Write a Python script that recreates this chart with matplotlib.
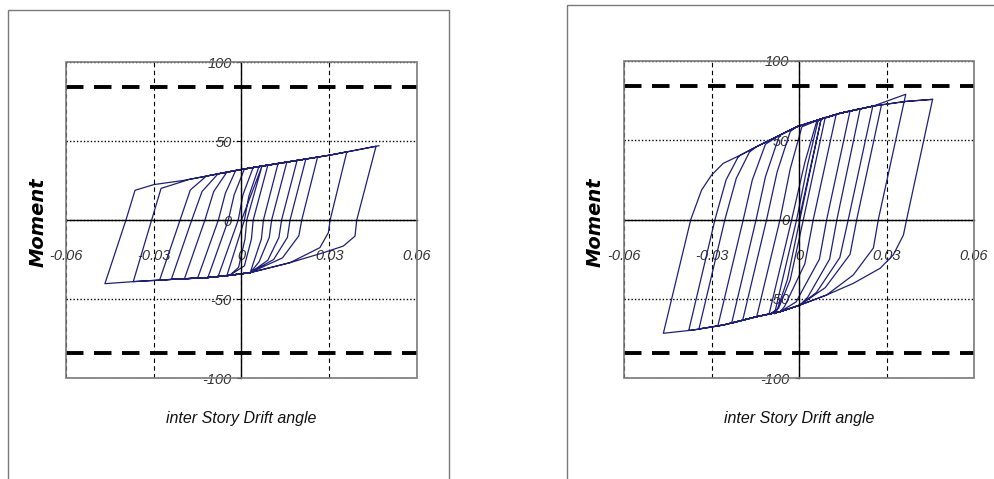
import numpy as np
import matplotlib
matplotlib.use("Agg")
import matplotlib.pyplot as plt
from matplotlib.patches import Rectangle

# ---------------- data ----------------
x_ticks = [-0.06, -0.03, 0, 0.03, 0.06]
x_tick_labels = ["-0.06", "-0.03", "0", "0.03", "0.06"]
y_ticks = [-100, -50, 0, 50, 100]
y_tick_labels = ["-100", "-50", "0", "50", "100"]
limit_lines = [84, -84]

# left specimen
L_up_x = [-0.030, -0.020, -0.010, 0.0, 0.010, 0.020, 0.030, 0.040, 0.047]
L_up_y = [22.4, 25.0, 28.5, 32.0, 35.0, 38.0, 41.0, 44.5, 47.0]
L_lo_x = [-0.047, -0.037, -0.023, -0.012, -0.004, 0.003, 0.0166, 0.028]
L_lo_y = [-40.3, -39.0, -37.5, -36.5, -35.0, -33.3, -27.0, -20.7]
L_px = [0.007, 0.009, 0.0125, 0.0155, 0.019, 0.022, 0.026, 0.036, 0.046]
L_py = [34.1, 34.7, 35.8, 36.7, 37.7, 38.6, 39.8, 43.1, 46.7]
L_uz = [0.0018, 0.004, 0.0075, 0.0103, 0.0137, 0.0166, 0.0206, 0.0303, 0.0394]
L_ub1x = [0.0012, 0.0034, 0.0068, 0.0095, 0.0128, 0.0157, 0.0196, 0.0297, 0.0388]
L_ub1y = [-12, -12, -12, -11, -11, -11, -10, -8, -10.2]
L_ub2x = [-0.001, 0.001, 0.004, 0.006, 0.009, 0.011, 0.014, 0.0268, 0.0348]
L_ub2y = [-30, -29, -27.5, -26.5, -25.5, -25, -24, -17.5, -16.5]
L_nx = [-0.005, -0.008, -0.0115, -0.015, -0.0195, -0.024, -0.028, -0.037, -0.0467]
L_ny = [-35.2, -35.8, -36.5, -36.8, -37.2, -37.6, -38.1, -39.0, -40.3]
L_rz = [0.001, -0.0011, -0.0045, -0.0079, -0.0125, -0.017, -0.021, -0.0307, -0.0395]
L_rb1x = [0.0025, 0.0005, -0.0025, -0.0055, -0.0095, -0.0135, -0.0175, -0.0275, -0.0364]
L_rb1y = [15, 16, 16, 17, 18, 18, 19, 20, 18.8]
L_rb2x = [0.006, 0.004, 0.001, -0.002, -0.005, -0.008, -0.012, -0.018, -0.030]
L_rb2y = [34.0, 33.3, 32.3, 31.3, 30.3, 29.3, 27.8, 25.6, 22.4]

# right specimen
R_up_x = [-0.030, -0.026, -0.020, -0.0145, -0.0065, -0.0008, 0.0072, 0.014, 0.0255, 0.0366, 0.0458]
R_up_y = [28.0, 35.4, 40.7, 46.0, 53.3, 58.5, 63.2, 67.0, 71.6, 74.5, 75.8]
R_lo_x = [-0.0465, -0.0362, -0.026, -0.0145, -0.0065, 0.0003, 0.0095, 0.0186, 0.0278]
R_lo_y = [-71.8, -69.7, -66.6, -61.3, -58.2, -54.0, -47.6, -40.3, -30.8]
R_px = [0.0076, 0.009, 0.0127, 0.0175, 0.021, 0.0253, 0.0283, 0.0366, 0.0458]
R_py = [63.5, 64.5, 66.0, 68.5, 70.0, 71.5, 72.5, 79.0, 75.8]
R_uz = [0.0003, 0.0015, 0.0049, 0.0095, 0.0130, 0.0169, 0.0198, 0.0272, 0.0369]
R_ub1x = [-0.004, -0.003, 0.002, 0.007, 0.0105, 0.014, 0.0175, 0.0255, 0.0358]
R_ub1y = [-38, -38, -28, -25, -25, -24, -22, -18, -9.8]
R_ub2x = [-0.0075, -0.007, -0.005, -0.001, 0.003, 0.006, 0.009, 0.0186, 0.0323]
R_ub2y = [-57, -56, -55, -52, -49, -46, -43, -35, -22.4]
R_nx = [-0.0084, -0.0103, -0.0145, -0.0193, -0.0231, -0.0278, -0.0343, -0.0378, -0.0465]
R_ny = [-59.5, -60.0, -61.3, -63.5, -65.5, -67.0, -69.0, -70.0, -71.8]
R_rz = [-0.0008, -0.0025, -0.0065, -0.0111, -0.0147, -0.0191, -0.0254, -0.0288, -0.0371]
R_rb1x = [0.003, 0.002, -0.003, -0.0075, -0.0115, -0.016, -0.0215, -0.025, -0.0334]
R_rb1y = [35, 36, 32, 30, 27, 25, 26, 25, 18.6]
R_rb2x = [0.0065, 0.006, 0.001, -0.003, -0.007, -0.0115, -0.017, -0.021, -0.030]
R_rb2y = [62.0, 61.5, 58.5, 55.5, 51.5, 47.5, 42.5, 39.0, 28.0]

navy = "#1f1f7a"
frame_grey = "#7a7a7a"


def reload_part(xs, ys, j, rz, rb1x, rb1y, rb2x, rb2y, upx, upy, x_end):
    xs += [rz[j], rb1x[j], rb2x[j]]
    ys += [0.0, rb1y[j], rb2y[j]]
    for a, b in zip(upx, upy):
        if rb2x[j] < a < x_end:
            xs.append(a)
            ys.append(b)


def hysteresis(px, py, uz, ub1x, ub1y, ub2x, ub2y, nx, ny,
               rz, rb1x, rb1y, rb2x, rb2y, upx, upy, lox, loy):
    xs, ys = [0.0], [0.0]
    for k in range(len(px)):
        if k > 0:
            reload_part(xs, ys, k - 1, rz, rb1x, rb1y, rb2x, rb2y, upx, upy, px[k])
        xs.append(px[k]); ys.append(py[k])
        xs += [uz[k], ub1x[k], ub2x[k]]
        ys += [0.0, ub1y[k], ub2y[k]]
        for a, b in reversed(list(zip(lox, loy))):
            if nx[k] < a < ub2x[k]:
                xs.append(a); ys.append(b)
        xs.append(nx[k]); ys.append(ny[k])
    reload_part(xs, ys, len(px) - 1, rz, rb1x, rb1y, rb2x, rb2y, upx, upy, 1.0)
    return xs, ys


fig = plt.figure(figsize=(9.95, 4.79), dpi=100)

# outer frames
fig.patches.append(Rectangle((0.008, -0.02), 0.443, 0.9987, transform=fig.transFigure,
                             fill=False, ec=frame_grey, lw=1.0))
fig.patches.append(Rectangle((0.5698, -0.02), 0.46, 1.0094, transform=fig.transFigure,
                             fill=False, ec=frame_grey, lw=1.0))


def panel(rect, curve, label_x):
    ax = fig.add_axes(rect)
    ax.set_xlim(-0.06, 0.06)
    ax.set_ylim(-100, 100)
    ax.spines["top"].set_visible(False)
    ax.spines["right"].set_visible(False)
    ax.spines["left"].set_position(("data", 0))
    ax.spines["bottom"].set_position(("data", 0))
    ax.spines["left"].set_linewidth(1.0)
    ax.spines["bottom"].set_linewidth(1.0)
    ax.add_patch(Rectangle((0, 0), 1, 1, transform=ax.transAxes, fill=False,
                           ec=frame_grey, lw=1.2, zorder=3, clip_on=False))
    ax.set_xticks(x_ticks)
    ax.set_xticklabels(x_tick_labels)
    ax.set_yticks(y_ticks)
    ax.set_yticklabels(y_tick_labels)
    ax.tick_params(axis="x", length=0, pad=21, labelsize=10.5, labelcolor="#333333")
    ax.tick_params(axis="y", length=3, direction="out", pad=4, labelsize=10.5,
                   labelcolor="#333333")
    for t in ax.get_xticklabels() + ax.get_yticklabels():
        t.set_family(["Liberation Sans", "DejaVu Sans"])
        t.set_style("italic")
    ax.xaxis.grid(True, ls=(0, (4, 3)), color="k", lw=0.8)
    ax.yaxis.grid(True, ls=(0, (1, 1.5)), color="k", lw=1.0)
    for v in limit_lines:
        ax.axhline(v, color="k", lw=2.8, ls=(0, (4.5, 2.7)), zorder=2)
    ax.plot(curve[0], curve[1], color=navy, lw=0.9, zorder=2.2)
    fig.text(label_x, 0.536, "Moment", rotation=90, ha="center", va="center",
             fontsize=14, fontweight="bold", style="italic", family="DejaVu Sans")
    fig.text(rect[0] + rect[2] / 2, 1 - 419 / 479, "inter Story Drift angle",
             ha="center", va="center", fontsize=11.5, style="italic",
             family=["Liberation Sans", "DejaVu Sans"], color="#111111")
    return ax


left = hysteresis(L_px, L_py, L_uz, L_ub1x, L_ub1y, L_ub2x, L_ub2y, L_nx, L_ny,
                  L_rz, L_rb1x, L_rb1y, L_rb2x, L_rb2y, L_up_x, L_up_y, L_lo_x, L_lo_y)
right = hysteresis(R_px, R_py, R_uz, R_ub1x, R_ub1y, R_ub2x, R_ub2y, R_nx, R_ny,
                   R_rz, R_rb1x, R_rb1y, R_rb2x, R_rb2y, R_up_x, R_up_y, R_lo_x, R_lo_y)

panel([66 / 995, 1 - 378 / 479, 351 / 995, 316 / 479], left, 38 / 995)
panel([624 / 995, 1 - 378 / 479, 350 / 995, 317 / 479], right, 595 / 995)

fig.savefig("out.png", dpi=100)
